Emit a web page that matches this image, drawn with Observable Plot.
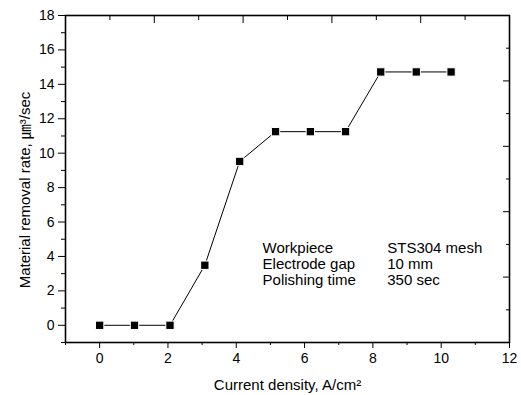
<!DOCTYPE html>
<html><head><meta charset="utf-8">
<script src="https://cdn.jsdelivr.net/npm/d3@7"></script>
<script src="https://cdn.jsdelivr.net/npm/@observablehq/plot@0.6"></script>
<style>
body{margin:0;background:#fff}
</style>
</head><body><div id="chart"></div>
<script>
// Data
const currentDensity = [0, 1.02, 2.06, 3.08, 4.10, 5.15, 6.17, 7.20, 8.23, 9.27, 10.29];
const removalRate    = [0, 0, 0, 3.49, 9.52, 11.25, 11.25, 11.25, 14.72, 14.72, 14.72];

// Tick values (bottom / left labelled axes)
const xMajorTicks = [0, 2, 4, 6, 8, 10, 12];
const xMinorTicks = [-1, 1, 3, 5, 7, 9, 11];
const yMajorTicks = [0, 2, 4, 6, 8, 10, 12, 14, 16, 18];
const yMinorTicks = [-1, 1, 3, 5, 7, 9, 11, 13, 15, 17];
// Mirrored (unlabelled) top / right tick positions as seen in the picture
const topMajorTicks = [1.6, 4.2, 6.8, 9.4];
const topMinorTicks = [0.3, 2.9, 5.5, 8.1, 10.7];
const rightMajorTicks = [2.8, 6.6, 10.4, 14.2];
const rightMinorTicks = [0.9, 4.7, 8.5, 12.3, 16.1];

// Texts
const xTitle = "Current density, A/cm²";
const yTitle = "Material removal rate, ㎛³/sec";
const infoLabels = ["Workpiece", "Electrode gap", "Polishing time"];
const infoValues = ["STS304 mesh", "10 mm", "350 sec"];

const points = currentDensity.map((x, i) => ({x, y: removalRate[i]}));
const blank = () => "";
const FONT = "Liberation Sans, Arial, Noto Sans CJK KR, sans-serif";

const chart = Plot.plot({
  width: 521,
  height: 395,
  marginLeft: 65,
  marginRight: 12,
  marginTop: 15,
  marginBottom: 53,
  style: {fontFamily: FONT, fontSize: "14px", color: "#000", background: "#fff"},
  x: {domain: [-1, 12]},
  y: {domain: [-1, 18]},
  marks: [
    // bottom axis
    Plot.axisX({ticks: xMajorTicks, tickSize: 6, tickPadding: 5, fontSize: 14, label: null}),
    Plot.axisX({ticks: xMinorTicks, tickSize: 3, tickFormat: blank, label: null}),
    // left axis
    Plot.axisY({ticks: yMajorTicks, tickSize: 7, tickPadding: 4, fontSize: 14, label: null}),
    Plot.axisY({ticks: yMinorTicks, tickSize: 4, tickFormat: blank, label: null}),
    // top mirrored ticks (inward)
    Plot.axisX({anchor: "top", ticks: topMajorTicks, tickSize: -7, tickFormat: blank, label: null}),
    Plot.axisX({anchor: "top", ticks: topMinorTicks, tickSize: -4, tickFormat: blank, label: null}),
    // right mirrored ticks (inward)
    Plot.axisY({anchor: "right", ticks: rightMajorTicks, tickSize: -7, tickFormat: blank, label: null}),
    Plot.axisY({anchor: "right", ticks: rightMinorTicks, tickSize: -4, tickFormat: blank, label: null}),
    Plot.frame({stroke: "#000", strokeWidth: 1.6}),
    // data
    Plot.line(points, {x: "x", y: "y", stroke: "#000", strokeWidth: 1}),
    Plot.dot(points, {x: "x", y: "y", symbol: "square", r: 4.7, fill: "#000", stroke: "#fff", strokeWidth: 1}),
    // annotation block
    Plot.text(infoLabels, {x: () => 4.77, y: (d, i) => 4.5 - 0.93 * i, text: d => d, textAnchor: "start", fontSize: 15, fill: "#000"}),
    Plot.text(infoValues, {x: () => 8.42, y: (d, i) => 4.5 - 0.93 * i, text: d => d, textAnchor: "start", fontSize: 15, fill: "#000"}),
    // axis titles
    Plot.text([xTitle], {frameAnchor: "bottom", dy: 43, textAnchor: "middle", lineAnchor: "middle", text: d => d, fontSize: 15, fill: "#000"}),
    Plot.text([yTitle], {frameAnchor: "left", dx: -40, dy: 11, rotate: -90, textAnchor: "middle", lineAnchor: "middle", text: d => d, fontSize: 15, fill: "#000"})
  ]
});
document.getElementById("chart").appendChild(chart);
</script>
</body></html>
